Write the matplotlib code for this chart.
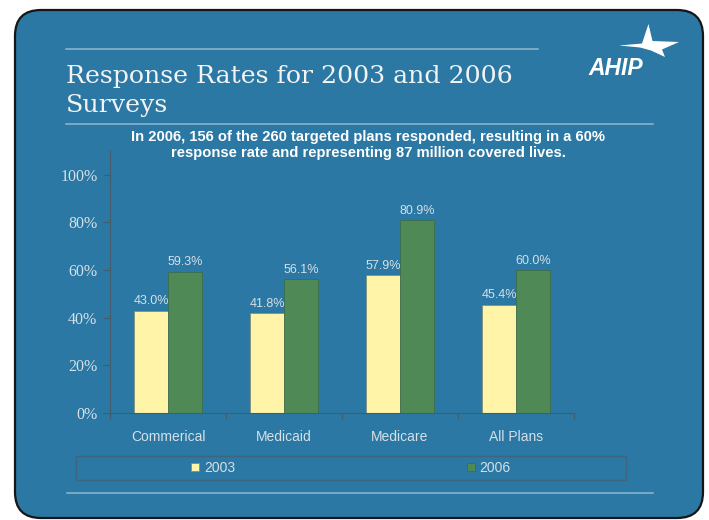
import matplotlib.pyplot as plt
from matplotlib.patches import FancyBboxPatch, Rectangle, Polygon
import numpy as np

# survey response rates (%)
categories = ['Commerical', 'Medicaid', 'Medicare', 'All Plans']
rates_2003 = [43.0, 41.8, 57.9, 45.4]
rates_2006 = [59.3, 56.1, 80.9, 60.0]
series_names = ['2003', '2006']
y_ticks = [0, 20, 40, 60, 80, 100]

title_lines = ['Response Rates for 2003 and 2006', 'Surveys']
note_lines = ['In 2006, 156 of the 260 targeted plans responded, resulting in a 60%',
              'response rate and representing 87 million covered lives.']

BLUE = '#2a78a3'
RULE = '#8fb7cf'
YELLOW = '#fff4a8'
GREEN = '#4f8a56'
AXIS = '#465c6b'
TEXT = '#d5e0e7'

W, H = 709, 520
fig = plt.figure(figsize=(W / 100, H / 100), dpi=100)
fig.patch.set_facecolor('white')

# slide background, drawn in pixel units
bg = fig.add_axes([0, 0, 1, 1], zorder=0)
bg.set_xlim(0, W)
bg.set_ylim(H, 0)
bg.axis('off')

bg.add_patch(FancyBboxPatch((15, 10), 688, 508, boxstyle='round,pad=0,rounding_size=26',
                            fc=BLUE, ec='#161616', lw=1.6))
bg.plot([66, 538], [49, 49], color=RULE, lw=1.1)
bg.plot([66, 653], [124, 124], color=RULE, lw=1.1)
bg.plot([67, 653], [493, 493], color=RULE, lw=1.1)

bg.text(66, 83, title_lines[0], family='DejaVu Serif', size=18.2, color='#f3f3f3', va='baseline')
bg.text(66, 112, title_lines[1], family='DejaVu Serif', size=18.2, color='#f3f3f3', va='baseline')

# logo
bg.text(588, 75, 'AHIP', family='Liberation Sans', weight='bold', style='italic',
        size=16.5, color='white', va='baseline')
star = [(619, 45.5), (642, 43.5), (648.5, 24), (652.5, 41), (679, 42), (662, 49.5),
        (665, 57), (651, 50.5), (640, 47.5)]
bg.add_patch(Polygon(star, closed=True, fc='white', ec='none'))

bg.text(368, 137, note_lines[0], family='Liberation Sans', weight='bold', size=10.6,
        color='white', ha='center', va='center')
bg.text(368, 153, note_lines[1], family='Liberation Sans', weight='bold', size=10.6,
        color='white', ha='center', va='center')

# legend frame
bg.add_patch(Rectangle((76, 456), 550, 24, fc='none', ec='#3d6580', lw=1))

# bar chart
ax = fig.add_axes([110 / W, 1 - 413 / H, 464 / W, 262 / H], zorder=1)
ax.set_facecolor('none')

x = np.arange(len(categories))
w = 0.29
b1 = ax.bar(x - w / 2, rates_2003, w, color=YELLOW, edgecolor='#7d8a70', lw=0.5, label=series_names[0])
b2 = ax.bar(x + w / 2, rates_2006, w, color=GREEN, edgecolor='#3d6a45', lw=0.5, label=series_names[1])

for bars in (b1, b2):
    for r in bars:
        ax.annotate(f'{r.get_height():.1f}%', (r.get_x() + r.get_width() / 2, r.get_height()),
                    xytext=(0, 2.5), textcoords='offset points', ha='center', va='bottom',
                    family='Liberation Sans', size=9, color=TEXT)

ax.set_xlim(-0.5, len(categories) - 0.5)
ax.set_ylim(0, 110)
ax.set_yticks(y_ticks)
ax.set_yticklabels([f'{t}%' for t in y_ticks], family='Liberation Serif', size=11.5, color=TEXT)
ax.set_xticks(np.arange(len(categories) + 1) - 0.5)
ax.set_xticklabels([])
ax.set_xticks(x, minor=True)
ax.set_xticklabels(categories, minor=True, family='Liberation Sans', size=10, color=TEXT)
ax.tick_params(axis='x', which='minor', length=0, pad=12)
ax.tick_params(axis='x', which='major', length=4, color=AXIS, width=0.8)
ax.tick_params(axis='y', length=5, color=AXIS, width=0.8, pad=4)
for s in ['top', 'right']:
    ax.spines[s].set_visible(False)
for s in ['left', 'bottom']:
    ax.spines[s].set_color(AXIS)
    ax.spines[s].set_linewidth(0.8)

leg = ax.legend(loc='center', bbox_to_anchor=(351 / W, 1 - 468 / H), bbox_transform=fig.transFigure,
                ncol=2, frameon=False, columnspacing=16.7, handlelength=0.55, handleheight=0.55,
                handletextpad=0.35, prop={'family': 'Liberation Sans', 'size': 10})
for t in leg.get_texts():
    t.set_color(TEXT)

fig.savefig('out.png', dpi=100)
